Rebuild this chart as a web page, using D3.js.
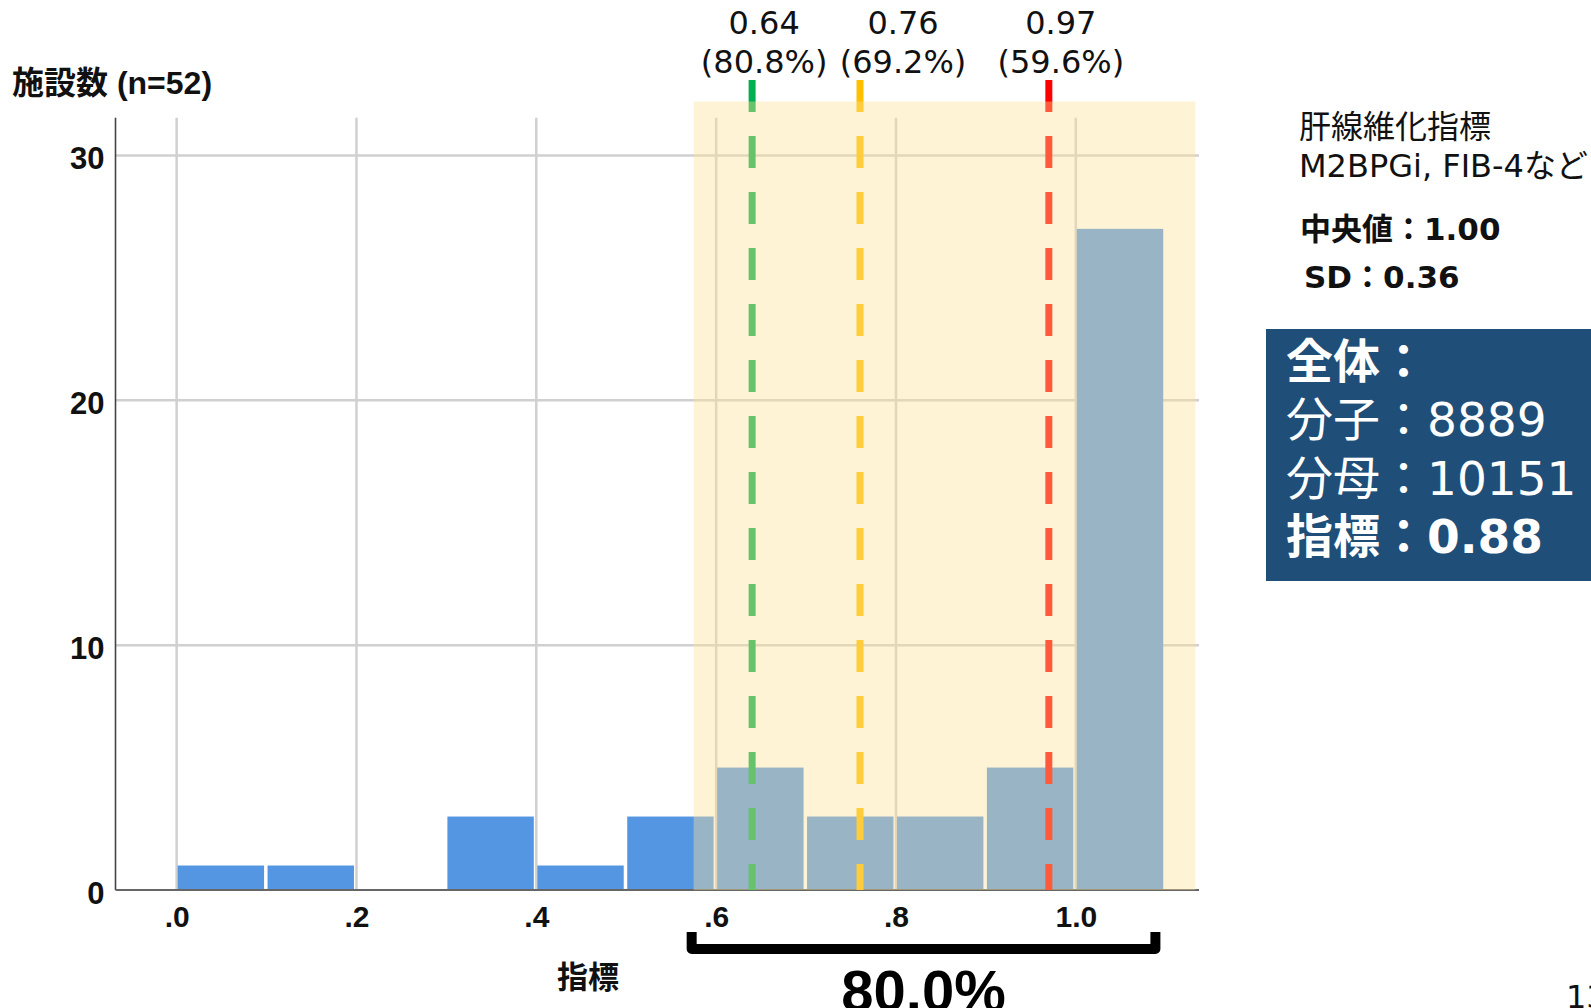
<!DOCTYPE html>
<html>
<head>
<meta charset="utf-8">
<script src="https://cdn.jsdelivr.net/npm/d3@7"></script>
<style>
  body { margin: 0; background: #fff; overflow: hidden; }
  svg { display: block; }
</style>
</head>
<body>
<svg id="chart" width="1591" height="1008"></svg>
<script>
// ---- data ----
// lower edge of each 0.1-wide bin and the number of facilities in it
const binStarts = [0.0, 0.1, 0.2, 0.3, 0.4, 0.5, 0.6, 0.7, 0.8, 0.9, 1.0];
const binCounts = [1, 1, 0, 3, 1, 3, 5, 3, 3, 5, 27];
const binWidth = 0.1;

const xTickValues = [0, 0.2, 0.4, 0.6, 0.8, 1.0];
const xTickLabels = [".0", ".2", ".4", ".6", ".8", "1.0"];
const yTickValues = [0, 10, 20, 30];

// threshold markers and the share of facilities reaching each
const markerValues = [0.64, 0.76, 0.97];
const markerShares = ["(80.8%)", "(69.2%)", "(59.6%)"];
const markerColors = ["#00B050", "#FFC000", "#FF0000"];

// highlighted range of the index and its share
const bandRange = [0.575, 1.133];
const bandShare = "80.0%";

const yTitle = ["施設数", " (n=52)"];
const xTitle = "指標";
const noteLines = ["肝線維化指標", "M2BPGi, FIB-4など"];
const statLines = ["中央値：1.00", "SD：0.36"];
const totalLabels = ["全体：", "分子：", "分母：", "指標："];
const totalValues = ["", "8889", "10151", "0.88"];
const totalBold = [true, false, false, true];
const pageNumber = "13";

// ---- layout ----
const svg = d3.select("#chart");
const x = d3.scaleLinear().domain([-0.068, 1.137]).range([115.5, 1199]);
const y = d3.scaleLinear().domain([0, 31.54]).range([890, 117.7]);
const yMax = y.domain()[1];

const arialBold = "'Liberation Sans', Arial, 'Noto Sans CJK JP', sans-serif";
const meiryo = "'DejaVu Sans', Verdana, 'Noto Sans CJK JP', sans-serif";

// grid
svg.append("g").selectAll("line")
  .data(xTickValues).join("line")
  .attr("x1", d => x(d)).attr("x2", d => x(d))
  .attr("y1", y(yMax)).attr("y2", y(0))
  .attr("stroke", "#d0d0d0").attr("stroke-width", 2.5);
svg.append("g").selectAll("line")
  .data(yTickValues.filter(d => d > 0)).join("line")
  .attr("x1", x.range()[0]).attr("x2", x.range()[1])
  .attr("y1", d => y(d)).attr("y2", d => y(d))
  .attr("stroke", "#d0d0d0").attr("stroke-width", 2.5);

// bars
const bins = binStarts.map((s, i) => ({ x0: s, x1: s + binWidth, n: binCounts[i] }));
svg.append("g").selectAll("rect")
  .data(bins.filter(d => d.n > 0)).join("rect")
  .attr("x", d => x(d.x0) + 1)
  .attr("width", d => x(d.x1) - x(d.x0) - 3.5)
  .attr("y", d => y(d.n))
  .attr("height", d => y(0) - y(d.n))
  .attr("fill", "#5596E3");

// axes
svg.append("line")
  .attr("x1", x.range()[0]).attr("x2", x.range()[0])
  .attr("y1", y(yMax)).attr("y2", y(0))
  .attr("stroke", "#444").attr("stroke-width", 1.6);
svg.append("line")
  .attr("x1", x.range()[0]).attr("x2", x.range()[1])
  .attr("y1", y(0)).attr("y2", y(0))
  .attr("stroke", "#666").attr("stroke-width", 2);

const yAxis = svg.append("g")
  .attr("transform", `translate(${x.range()[0]},0)`)
  .call(d3.axisLeft(y).tickValues(yTickValues).tickSize(0).tickPadding(11));
yAxis.select(".domain").remove();
yAxis.selectAll("text")
  .attr("dy", "0.42em")
  .style("font-family", arialBold).style("font-weight", "bold")
  .style("font-size", "31px").attr("fill", "#111");

const xAxis = svg.append("g")
  .attr("transform", `translate(0,${y(0)})`)
  .call(d3.axisBottom(x).tickValues(xTickValues).tickFormat((d, i) => xTickLabels[i]).tickSize(0));
xAxis.select(".domain").remove();
xAxis.selectAll("text")
  .attr("y", 37).attr("dy", 0)
  .style("font-family", arialBold).style("font-weight", "bold")
  .style("font-size", "30px").attr("fill", "#111");

// threshold markers
const markerTop = 80;
svg.append("g").selectAll("line")
  .data(markerValues).join("line")
  .attr("x1", d => x(d)).attr("x2", d => x(d))
  .attr("y1", markerTop).attr("y2", y(0))
  .attr("stroke", (d, i) => markerColors[i])
  .attr("stroke-width", 7)
  .attr("stroke-dasharray", "32 24");

// translucent highlight over the selected range
svg.append("rect")
  .attr("x", x(bandRange[0]))
  .attr("width", x(bandRange[1]) - x(bandRange[0]))
  .attr("y", y(32.2))
  .attr("height", y(0) - y(32.2))
  .attr("fill", "rgb(255,225,150)").attr("fill-opacity", 0.4);

// marker labels
const labelShift = [12, 43, 12];
const mLabels = svg.append("g")
  .style("font-family", meiryo).style("font-size", "32px").attr("fill", "#111")
  .attr("text-anchor", "middle");
markerValues.forEach((v, i) => {
  const cx = x(v) + labelShift[i];
  mLabels.append("text").attr("x", cx).attr("y", 34).text(d3.format(".2f")(v));
  mLabels.append("text").attr("x", cx).attr("y", 73).text(markerShares[i]);
});

// titles
const yt = svg.append("text").attr("x", 12).attr("y", 94)
  .style("font-family", arialBold).style("font-weight", "bold")
  .style("font-size", "32px").attr("fill", "#111");
yt.append("tspan").style("font-family", "'Noto Sans CJK JP', sans-serif").text(yTitle[0]);
yt.append("tspan").text(yTitle[1]);

svg.append("text").attr("x", 588).attr("y", 988)
  .attr("text-anchor", "middle")
  .style("font-family", "'Noto Sans CJK JP', sans-serif").style("font-weight", "bold")
  .style("font-size", "31px").attr("fill", "#111")
  .text(xTitle);

// bracket under the highlighted range
const bx0 = x(bandRange[0]) - 2, bx1 = x(bandRange[1]) - 40;
svg.append("path")
  .attr("d", `M${bx0},932 V949 H${bx1} V932`)
  .attr("fill", "none").attr("stroke", "#000")
  .attr("stroke-width", 10).attr("stroke-linejoin", "round");
svg.append("text").attr("x", (bx0 + bx1) / 2).attr("y", 1011)
  .attr("text-anchor", "middle")
  .style("font-family", arialBold).style("font-weight", "bold")
  .style("font-size", "58px").attr("fill", "#000")
  .text(bandShare);

// notes on the right
const notes = svg.append("g").style("font-family", meiryo).attr("fill", "#111");
notes.append("text").attr("x", 1299).attr("y", 138).style("font-size", "32px").text(noteLines[0]);
notes.append("text").attr("x", 1299).attr("y", 177).style("font-size", "32px").text(noteLines[1]);
notes.append("text").attr("x", 1300).attr("y", 240).style("font-size", "31px")
  .style("font-weight", "bold").text(statLines[0]);
notes.append("text").attr("x", 1304).attr("y", 288).style("font-size", "31px")
  .style("font-weight", "bold").text(statLines[1]);

// overall totals box
svg.append("rect").attr("x", 1266).attr("y", 329).attr("width", 340).attr("height", 252)
  .attr("fill", "#1F4E79");
const tot = svg.append("g").style("font-family", meiryo).attr("fill", "#fff")
  .style("font-size", "47px");
totalLabels.forEach((lab, i) => {
  tot.append("text").attr("x", 1286).attr("y", 378 + i * 58.3)
    .style("font-weight", totalBold[i] ? "bold" : "normal")
    .text(lab + totalValues[i]);
});

// page number
svg.append("text").attr("x", 1566).attr("y", 1008)
  .style("font-family", meiryo).style("font-size", "32px").attr("fill", "#111")
  .text(pageNumber);
</script>
</body>
</html>
